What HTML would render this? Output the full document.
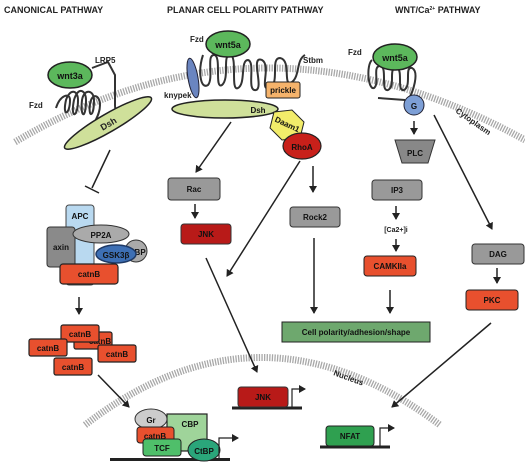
<!DOCTYPE html>
<html><head><meta charset="utf-8"><style>
html,body{margin:0;padding:0;background:#fff;}
svg{display:block;}
text{font-family:"Liberation Sans",Arial,sans-serif;font-weight:bold;}
</style></head><body>
<svg width="525" height="465" viewBox="0 0 525 465" xmlns="http://www.w3.org/2000/svg">
<defs>
<marker id="ah" markerWidth="8" markerHeight="8" refX="6" refY="4" orient="auto" markerUnits="userSpaceOnUse">
<path d="M0,0 L7,4 L0,8 Z" fill="#222"/>
</marker>
</defs>
<!-- titles -->
<text x="4" y="13" font-size="9" fill="#222">CANONICAL PATHWAY</text>
<text x="167" y="13" font-size="9" fill="#222">PLANAR CELL POLARITY PATHWAY</text>
<text x="395" y="13" font-size="9" fill="#222">WNT/Ca<tspan font-size="5" dy="-3">2+</tspan><tspan dy="3"> PATHWAY</tspan></text>

<!-- membranes -->
<path d="M15,142 Q262,-5 525,140" fill="none" stroke="#a8a8a8" stroke-width="7" stroke-dasharray="1.3 1.3"/>
<path d="M85,425 Q260,290 440,425" fill="none" stroke="#a8a8a8" stroke-width="7" stroke-dasharray="1.3 1.3"/>
<text x="455" y="112" font-size="8" fill="#222" transform="rotate(35 455 112)">Cytoplasm</text>
<text x="333" y="375" font-size="8" fill="#222" transform="rotate(20 333 375)">Nucleus</text>

<!-- CANONICAL -->
<path d="M56,108 C60,95 70,92 70,100 C70,115 62,118 66,100 C70,88 78,90 78,100 C78,118 70,120 74,100 C78,86 86,90 86,100 C86,120 80,118 82,100 C84,88 94,90 94,100 C94,118 88,118 90,104 C92,92 100,95 100,105 C100,118 90,125 95,128" fill="none" stroke="#333" stroke-width="2"/>
<path d="M92,68 L108,62 L115,75 L115,105 C115,112 118,112 120,108" fill="none" stroke="#333" stroke-width="2"/>
<ellipse cx="70" cy="75" rx="22" ry="13" fill="#5cb85c" stroke="#222" stroke-width="1.5"/>
<text x="70" y="79" font-size="9" text-anchor="middle" fill="#111">wnt3a</text>
<text x="95" y="63" font-size="8" fill="#222">LRP5</text>
<text x="29" y="108" font-size="8" fill="#222">Fzd</text>
<ellipse cx="108" cy="123" rx="50" ry="9" fill="#cfe09a" stroke="#222" stroke-width="1.5" transform="rotate(-30 108 123)"/>
<text x="108" y="127" font-size="9" text-anchor="middle" fill="#222" transform="rotate(-30 108 123)">Dsh</text>
<line x1="110" y1="150" x2="92" y2="188" stroke="#222" stroke-width="1.5"/>
<line x1="85" y1="186" x2="99" y2="193" stroke="#222" stroke-width="1.5"/>

<rect x="66" y="205" width="28" height="80" rx="3" fill="#b9d9f0" stroke="#444"/>
<text x="80" y="219" font-size="8" text-anchor="middle" fill="#111">APC</text>
<rect x="47" y="227" width="28" height="40" rx="3" fill="#8a8a8a" stroke="#333"/>
<text x="61" y="250" font-size="8" text-anchor="middle" fill="#111">axin</text>
<ellipse cx="101" cy="234" rx="28" ry="9" fill="#aaa" stroke="#333"/>
<text x="101" y="238" font-size="8" text-anchor="middle" fill="#111">PP2A</text>
<circle cx="136" cy="251" r="11" fill="#aaa" stroke="#333"/>
<text x="137" y="255" font-size="8" text-anchor="middle" fill="#111">GBP</text>
<ellipse cx="116" cy="254" rx="20" ry="9" fill="#3d6fb4" stroke="#1f3a66" stroke-width="1.5"/>
<text x="116" y="258" font-size="8" text-anchor="middle" fill="#111">GSK3β</text>
<rect x="60" y="264" width="58" height="20" rx="3" fill="#e8502e" stroke="#222" stroke-width="1.2"/>
<text x="89" y="277" font-size="8" text-anchor="middle" fill="#111">catnB</text>
<line x1="79" y1="297" x2="79" y2="314" stroke="#222" stroke-width="1.5" marker-end="url(#ah)"/>

<g font-size="8" text-anchor="middle" fill="#111">
<rect x="74" y="332" width="38" height="17" rx="2" fill="#e8502e" stroke="#222" stroke-width="1.2"/>
<text x="100" y="344">catnB</text>
<rect x="61" y="325" width="38" height="17" rx="2" fill="#e8502e" stroke="#222" stroke-width="1.2"/>
<text x="80" y="337">catnB</text>
<rect x="29" y="339" width="38" height="17" rx="2" fill="#e8502e" stroke="#222" stroke-width="1.2"/>
<text x="48" y="351">catnB</text>
<rect x="98" y="345" width="38" height="17" rx="2" fill="#e8502e" stroke="#222" stroke-width="1.2"/>
<text x="117" y="357">catnB</text>
<rect x="54" y="358" width="38" height="17" rx="2" fill="#e8502e" stroke="#222" stroke-width="1.2"/>
<text x="73" y="370">catnB</text>
</g>
<line x1="98" y1="375" x2="129" y2="407" stroke="#222" stroke-width="1.5" marker-end="url(#ah)"/>

<line x1="110" y1="459.5" x2="230" y2="459.5" stroke="#222" stroke-width="3"/>
<rect x="167" y="414" width="40" height="37" fill="#9fd49a" stroke="#222" stroke-width="1.2"/>
<text x="190" y="427" font-size="8" text-anchor="middle" fill="#111">CBP</text>
<ellipse cx="151" cy="419" rx="16" ry="10" fill="#ccc" stroke="#333"/>
<text x="151" y="423" font-size="8" text-anchor="middle" fill="#111">Gr</text>
<rect x="137" y="427" width="37" height="16" rx="3" fill="#e8502e" stroke="#222"/>
<text x="155" y="439" font-size="8" text-anchor="middle" fill="#111">catnB</text>
<rect x="143" y="439" width="38" height="17" rx="3" fill="#4fbf6a" stroke="#222"/>
<text x="162" y="451" font-size="8" text-anchor="middle" fill="#111">TCF</text>
<ellipse cx="204" cy="450" rx="16" ry="11" fill="#2aa67a" stroke="#222"/>
<text x="204" y="454" font-size="8" text-anchor="middle" fill="#111">CtBP</text>
<path d="M219,458 L219,438 L238,438" fill="none" stroke="#222" stroke-width="1.2" marker-end="url(#ah)"/>

<!-- PCP -->
<path d="M203,55 C198,70 200,90 208,85 C214,78 206,55 214,55 C222,55 214,90 222,85 C230,78 222,55 230,55 C238,55 230,92 238,88 C246,84 240,60 248,60 C256,62 246,92 256,90 C264,88 250,55 262,60 C272,66 258,92 270,88 C280,82 270,58 280,58 C292,60 282,88 292,82 C300,76 296,60 305,55" fill="none" stroke="#333" stroke-width="2"/>
<ellipse cx="193" cy="78" rx="5" ry="20" fill="#6a85c0" stroke="#223" transform="rotate(-10 193 78)"/>
<text x="190" y="42" font-size="8" fill="#222">Fzd</text>
<text x="164" y="98" font-size="8" fill="#222">knypek</text>
<ellipse cx="228" cy="44" rx="22" ry="13" fill="#5cb85c" stroke="#222" stroke-width="1.5"/>
<text x="228" y="48" font-size="9" text-anchor="middle" fill="#111">wnt5a</text>
<text x="303" y="63" font-size="8" fill="#222">Stbm</text>
<rect x="266" y="82" width="34" height="16" rx="2" fill="#f5b36b" stroke="#222"/>
<text x="283" y="93" font-size="8" text-anchor="middle" fill="#111">prickle</text>
<ellipse cx="225" cy="109" rx="53" ry="9" fill="#cfe09a" stroke="#222" stroke-width="1.5"/>
<text x="258" y="113" font-size="8" text-anchor="middle" fill="#111">Dsh</text>
<polygon points="274,112 292,110 304,122 300,138 282,140 270,128" fill="#f2ec6a" stroke="#222"/>
<text x="287" y="127" font-size="8" text-anchor="middle" fill="#111" transform="rotate(25 287 125)">Daam1</text>
<ellipse cx="302" cy="146" rx="19" ry="13" fill="#c8201a" stroke="#222" stroke-width="1.2"/>
<text x="302" y="150" font-size="8" text-anchor="middle" fill="#111">RhoA</text>
<line x1="231" y1="122" x2="196" y2="172" stroke="#222" stroke-width="1.5" marker-end="url(#ah)"/>
<rect x="168" y="178" width="52" height="22" rx="3" fill="#999" stroke="#333"/>
<text x="194" y="192" font-size="8" text-anchor="middle" fill="#111">Rac</text>
<line x1="195" y1="204" x2="195" y2="218" stroke="#222" stroke-width="1.5" marker-end="url(#ah)"/>
<rect x="181" y="224" width="50" height="20" rx="3" fill="#b81a18" stroke="#333"/>
<text x="206" y="237" font-size="8" text-anchor="middle" fill="#111">JNK</text>
<line x1="206" y1="258" x2="257" y2="372" stroke="#222" stroke-width="1.5" marker-end="url(#ah)"/>
<line x1="300" y1="161" x2="227" y2="276" stroke="#222" stroke-width="1.5" marker-end="url(#ah)"/>
<line x1="313" y1="166" x2="313" y2="192" stroke="#222" stroke-width="1.5" marker-end="url(#ah)"/>
<rect x="290" y="207" width="50" height="20" rx="3" fill="#999" stroke="#333"/>
<text x="315" y="220" font-size="8" text-anchor="middle" fill="#111">Rock2</text>
<line x1="314" y1="238" x2="314" y2="313" stroke="#222" stroke-width="1.5" marker-end="url(#ah)"/>
<rect x="282" y="322" width="148" height="20" fill="#6ea86e" stroke="#222"/>
<text x="356" y="335" font-size="8" text-anchor="middle" fill="#111">Cell polarity/adhesion/shape</text>
<line x1="232" y1="408" x2="302" y2="408" stroke="#222" stroke-width="3"/>
<rect x="238" y="387" width="50" height="20" rx="3" fill="#b81a18" stroke="#333"/>
<text x="263" y="400" font-size="8" text-anchor="middle" fill="#111">JNK</text>
<path d="M292,407 L292,389 L305,389" fill="none" stroke="#222" stroke-width="1.2" marker-end="url(#ah)"/>

<!-- Ca -->
<path d="M378,98 L405,100" stroke="#333" stroke-width="2"/>
<path d="M372,60 C366,65 368,90 374,88 C380,84 372,66 380,66 C388,66 380,92 388,90 C396,86 388,68 396,68 C404,68 396,92 404,90 C412,86 404,66 412,68 C420,72 412,94 410,96" fill="none" stroke="#333" stroke-width="2"/>
<text x="348" y="55" font-size="8" fill="#222">Fzd</text>
<ellipse cx="395" cy="57" rx="22" ry="13" fill="#5cb85c" stroke="#222" stroke-width="1.5"/>
<text x="395" y="61" font-size="9" text-anchor="middle" fill="#111">wnt5a</text>
<circle cx="414" cy="105" r="10" fill="#7d9fd6" stroke="#223"/>
<text x="414" y="109" font-size="8" text-anchor="middle" fill="#111">G</text>
<line x1="414" y1="121" x2="414" y2="134" stroke="#222" stroke-width="1.5" marker-end="url(#ah)"/>
<polygon points="395,140 435,140 428,163 402,163" fill="#888" stroke="#333"/>
<text x="415" y="156" font-size="8" text-anchor="middle" fill="#111">PLC</text>
<rect x="372" y="180" width="50" height="20" rx="3" fill="#999" stroke="#333"/>
<text x="397" y="193" font-size="8" text-anchor="middle" fill="#111">IP3</text>
<line x1="396" y1="206" x2="396" y2="219" stroke="#222" stroke-width="1.5" marker-end="url(#ah)"/>
<text x="396" y="232" font-size="7" text-anchor="middle" fill="#222" font-weight="normal">[Ca2+]i</text>
<line x1="396" y1="239" x2="396" y2="251" stroke="#222" stroke-width="1.5" marker-end="url(#ah)"/>
<rect x="364" y="256" width="52" height="20" rx="3" fill="#e8502e" stroke="#222"/>
<text x="390" y="269" font-size="8" text-anchor="middle" fill="#111">CAMKIIa</text>
<line x1="390" y1="290" x2="390" y2="313" stroke="#222" stroke-width="1.5" marker-end="url(#ah)"/>
<line x1="434" y1="115" x2="492" y2="229" stroke="#222" stroke-width="1.5" marker-end="url(#ah)"/>
<rect x="472" y="244" width="52" height="20" rx="3" fill="#999" stroke="#333"/>
<text x="498" y="257" font-size="8" text-anchor="middle" fill="#111">DAG</text>
<line x1="497" y1="268" x2="497" y2="283" stroke="#222" stroke-width="1.5" marker-end="url(#ah)"/>
<rect x="466" y="290" width="52" height="20" rx="3" fill="#e8502e" stroke="#222"/>
<text x="492" y="303" font-size="8" text-anchor="middle" fill="#111">PKC</text>
<line x1="491" y1="323" x2="392" y2="407" stroke="#222" stroke-width="1.5" marker-end="url(#ah)"/>
<line x1="320" y1="447" x2="390" y2="447" stroke="#222" stroke-width="3"/>
<rect x="326" y="426" width="48" height="20" rx="3" fill="#2fa050" stroke="#222"/>
<text x="350" y="439" font-size="8" text-anchor="middle" fill="#111">NFAT</text>
<path d="M380,446 L380,428 L394,428" fill="none" stroke="#222" stroke-width="1.2" marker-end="url(#ah)"/>
</svg>
</body></html>
